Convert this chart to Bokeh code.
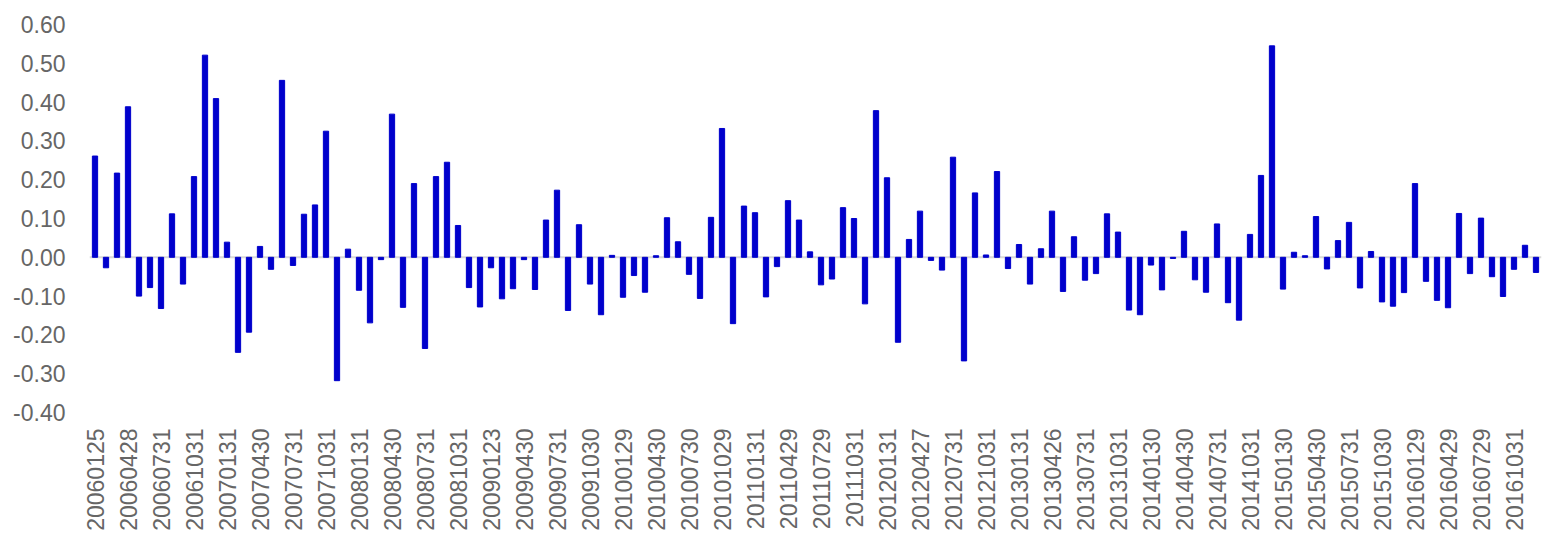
from bokeh.plotting import figure
from bokeh.models import FixedTicker, NumeralTickFormatter, Span, Range1d
from bokeh.embed import file_html
from bokeh.resources import INLINE
import math

# Monthly values, 2006-01 .. 2016-12
values = [
    0.261, -0.027, 0.217, 0.388, -0.100, -0.078, -0.132, 0.112, -0.069, 0.208,
    0.521, 0.409, 0.039, -0.245, -0.193, 0.028, -0.031, 0.456, -0.021, 0.111,
    0.135, 0.325, -0.318, 0.021, -0.085, -0.169, -0.006, 0.369, -0.129, 0.190,
    -0.235, 0.208, 0.245, 0.082, -0.078, -0.128, -0.027, -0.107, -0.081, -0.006,
    -0.083, 0.096, 0.173, -0.137, 0.084, -0.069, -0.148, 0.005, -0.103, -0.047,
    -0.090, 0.004, 0.102, 0.040, -0.044, -0.106, 0.103, 0.332, -0.171, 0.132,
    0.115, -0.102, -0.024, 0.146, 0.096, 0.014, -0.071, -0.056, 0.128, 0.100,
    -0.120, 0.378, 0.205, -0.219, 0.046, 0.119, -0.008, -0.033, 0.258, -0.267,
    0.166, 0.006, 0.221, -0.029, 0.033, -0.069, 0.022, 0.119, -0.088, 0.053,
    -0.059, -0.042, 0.112, 0.065, -0.136, -0.148, -0.020, -0.084, -0.003, 0.067,
    -0.058, -0.090, 0.086, -0.117, -0.162, 0.059, 0.211, 0.545, -0.082, 0.013,
    0.004, 0.105, -0.030, 0.043, 0.090, -0.079, 0.015, -0.115, -0.126, -0.091,
    0.190, -0.062, -0.111, -0.130, 0.113, -0.042, 0.101, -0.050, -0.101, -0.031,
    0.031, -0.039,
]

# Labels shown on the x axis (every third month)
tick_labels = [
    "20060125", "20060428", "20060731", "20061031", "20070131", "20070430",
    "20070731", "20071031", "20080131", "20080430", "20080731", "20081031",
    "20090123", "20090430", "20090731", "20091030", "20100129", "20100430",
    "20100730", "20101029", "20110131", "20110429", "20110729", "20111031",
    "20120131", "20120427", "20120731", "20121031", "20130131", "20130426",
    "20130731", "20131031", "20140130", "20140430", "20140731", "20141031",
    "20150130", "20150430", "20150731", "20151030", "20160129", "20160429",
    "20160729", "20161031",
]
label_step = 3

y_ticks = [-0.4, -0.3, -0.2, -0.1, 0.0, 0.1, 0.2, 0.3, 0.4, 0.5, 0.6]

x = list(range(len(values)))

p = figure(
    frame_width=1452, frame_height=388,
    min_border_left=89, min_border_right=7, min_border_top=24, min_border_bottom=120,
    x_range=Range1d(-0.5, len(values) - 0.5),
    y_range=Range1d(y_ticks[0], y_ticks[-1]),
    output_backend="svg", toolbar_location=None,
)
p.outline_line_color = None
p.xgrid.visible = False
p.ygrid.visible = False

zero = Span(location=0, dimension="width", line_color="#d9d9d9", line_width=2,
            level="underlay")
p.add_layout(zero)

p.vbar(x=x, top=values, bottom=0, width=0.48, color="#0000cc")

font = "Liberation Sans"
lab_color = "#666666"

ticks = [i * label_step for i in range(len(tick_labels))]
p.xaxis.ticker = FixedTicker(ticks=ticks)
p.xaxis.major_label_overrides = {t: lab for t, lab in zip(ticks, tick_labels)}
p.xaxis.major_label_orientation = math.pi / 2
p.xaxis.axis_line_color = None
p.xaxis.major_tick_line_color = None
p.xaxis.minor_tick_line_color = None
p.xaxis.major_label_standoff = 10
p.xaxis.major_label_text_font = font
p.xaxis.major_label_text_font_size = "23px"
p.xaxis.major_label_text_color = lab_color

p.yaxis.ticker = FixedTicker(ticks=y_ticks)
p.yaxis.formatter = NumeralTickFormatter(format="0.00")
p.yaxis.axis_line_color = None
p.yaxis.major_tick_line_color = None
p.yaxis.minor_tick_line_color = None
p.yaxis.major_label_standoff = 18
p.yaxis.major_label_text_font = font
p.yaxis.major_label_text_font_size = "23px"
p.yaxis.major_label_text_color = lab_color

open("out.html", "w").write(file_html(p, INLINE))
